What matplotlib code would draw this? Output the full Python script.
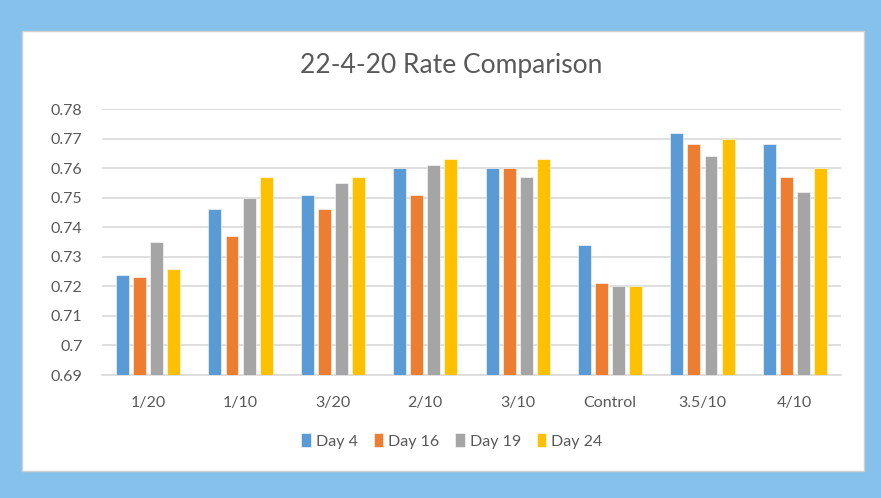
import matplotlib
matplotlib.use("Agg")
import matplotlib.pyplot as plt
import numpy as np
from matplotlib.patches import Rectangle

categories = ["1/20", "1/10", "3/20", "2/10", "3/10", "Control", "3.5/10", "4/10"]
series_names = ["Day 4", "Day 16", "Day 19", "Day 24"]
day4 = [0.724, 0.746, 0.751, 0.760, 0.760, 0.734, 0.772, 0.768]
day16 = [0.723, 0.737, 0.746, 0.751, 0.760, 0.721, 0.768, 0.757]
day19 = [0.735, 0.750, 0.755, 0.761, 0.757, 0.720, 0.764, 0.752]
day24 = [0.726, 0.757, 0.757, 0.763, 0.763, 0.720, 0.770, 0.760]
yticks = [0.69, 0.7, 0.71, 0.72, 0.73, 0.74, 0.75, 0.76, 0.77, 0.78]
ytick_labels = ["0.69", "0.7", "0.71", "0.72", "0.73", "0.74", "0.75", "0.76", "0.77", "0.78"]

colors = ["#5B9BD5", "#ED7D31", "#A5A5A5", "#FFC000"]
plt.rcParams['font.family'] = ['Lato', 'DejaVu Sans']
txt = "#595959"

fig = plt.figure(figsize=(8.81, 4.98), dpi=100)
fig.patch.set_facecolor("#85C1EB")
# inner white panel
fig.patches.append(Rectangle((22/881, 1-471/498), (864-22)/881, (471-31)/498,
                             transform=fig.transFigure, facecolor="white",
                             edgecolor="#D0D0D0", linewidth=1, zorder=-10))

ax = fig.add_axes([102/881, 1-375/498, (841-102)/881, (375-109)/498], zorder=1)
ax.set_facecolor("none")
x = np.arange(len(categories))
w = 0.14
step = 0.185
for i, (vals, name) in enumerate(zip([day4, day16, day19, day24], series_names)):
    ax.bar(x + (i - 1.5) * step, np.array(vals) - 0.69, width=w, bottom=0.69,
           color=colors[i], label=name, zorder=3, edgecolor="white", linewidth=0.4)

ax.set_ylim(0.69, 0.78)
ax.set_xlim(-0.5, len(categories) - 0.5)
ax.set_yticks(yticks)
ax.set_yticklabels(ytick_labels)
ax.set_xticks(x)
ax.set_xticklabels(categories)
ax.grid(axis="y", color="#D9D9D9", linewidth=1.2, zorder=0)
for s in ["top", "right", "left"]:
    ax.spines[s].set_visible(False)
ax.spines["bottom"].set_color("#D9D9D9")
ax.spines["bottom"].set_linewidth(1.2)
ax.tick_params(axis="both", length=0, labelcolor=txt, labelsize=11.5)
ax.tick_params(axis="y", pad=14)
ax.tick_params(axis="x", pad=15)

fig.text(451/881, 1-66/498, "22-4-20 Rate Comparison", ha="center", va="center",
         fontsize=19, color=txt, zorder=2)

leg = fig.legend(loc="center", bbox_to_anchor=(452/881, 1-441/498), ncol=4,
                 frameon=False, fontsize=11.5, handlelength=0.6, handleheight=0.9,
                 handletextpad=0.3, columnspacing=1.0)
leg.set_zorder(2)
for t in leg.get_texts():
    t.set_color(txt)

fig.savefig("out.png", dpi=100, facecolor=fig.get_facecolor())
